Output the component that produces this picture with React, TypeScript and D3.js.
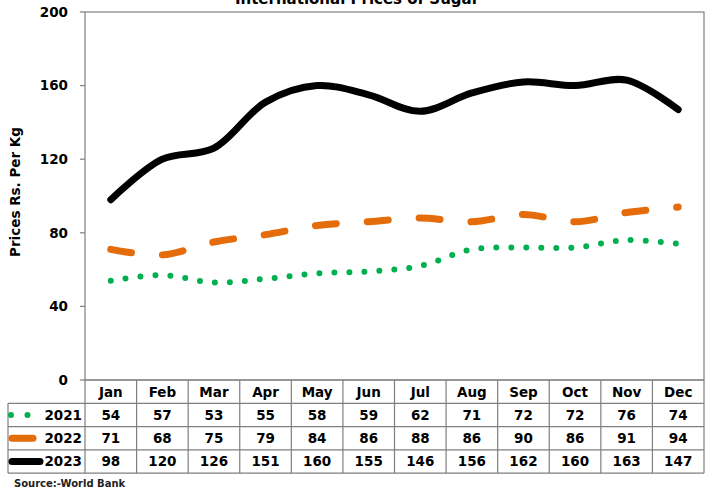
import React from "react";
import * as d3 from "d3";

const months = ["Jan", "Feb", "Mar", "Apr", "May", "Jun", "Jul", "Aug", "Sep", "Oct", "Nov", "Dec"];
const series2021 = [54, 57, 53, 55, 58, 59, 62, 71, 72, 72, 76, 74];
const series2022 = [71, 68, 75, 79, 84, 86, 88, 86, 90, 86, 91, 94];
const series2023 = [98, 120, 126, 151, 160, 155, 146, 156, 162, 160, 163, 147];
const seriesNames = ["2021", "2022", "2023"];
const yTicks = [0, 40, 80, 120, 160, 200];
const title = "International Prices of Sugar";
const yLabel = "Prices Rs. Per Kg";
const source = "Source:-World Bank";

const W = 706;
const H = 489;
const left = 85;
const right = 704;
const top = 12;
const bottom = 380;
const rowH = 23.3;
const tableLeft = 8;
const font = "'DejaVu Sans', Verdana, sans-serif";

export default function App() {
  const x = d3.scaleBand<string>().domain(months).range([left, right]);
  const y = d3.scaleLinear().domain([0, 200]).range([bottom, top]);
  const line = d3
    .line<number>()
    .x((_, i) => (x(months[i]) as number) + x.bandwidth() / 2)
    .y((d) => y(d))
    .curve(d3.curveCatmullRom.alpha(0.5));

  const styles = [
    { color: "#00B050", width: 6, dash: "0 15", cap: "round" as const },
    { color: "#E46C0A", width: 7, dash: "21 31", cap: "round" as const },
    { color: "#000000", width: 7, dash: undefined, cap: "round" as const },
  ];
  const data = [series2021, series2022, series2023];
  const border = "#7f7f7f";

  return (
    <svg width={W} height={H} style={{ position: "absolute", left: 0, top: 0, background: "#fff" }}>
      <text x={357} y={4} textAnchor="middle" fontFamily={font} fontWeight="bold" fontSize={15}>
        {title}
      </text>
      {/* plot frame */}
      <rect x={left} y={top} width={right - left} height={bottom - top} fill="none" stroke={border} strokeWidth={1.2} />
      {/* y ticks */}
      {yTicks.map((t) => (
        <g key={t}>
          <line x1={left - 5} x2={left} y1={y(t)} y2={y(t)} stroke={border} strokeWidth={1.2} />
          <text x={68} y={y(t)} dy="0.36em" textAnchor="end" fontFamily={font} fontWeight="bold" fontSize={13.5}>
            {t}
          </text>
        </g>
      ))}
      <text
        transform={`translate(20,${(top + bottom) / 2 - 4}) rotate(-90)`}
        textAnchor="middle"
        fontFamily={font}
        fontWeight="bold"
        fontSize={13.5}
      >
        {yLabel}
      </text>
      {/* lines */}
      {data.map((s, i) => (
        <path
          key={i}
          d={line(s) as string}
          fill="none"
          stroke={styles[i].color}
          strokeWidth={styles[i].width}
          strokeDasharray={styles[i].dash}
          strokeLinecap={styles[i].cap}
          strokeLinejoin="round"
        />
      ))}
      {/* table */}
      {[0, 1, 2, 3, 4].map((r) => (
        <line
          key={"h" + r}
          x1={r === 0 ? left : tableLeft}
          x2={right}
          y1={bottom + r * rowH}
          y2={bottom + r * rowH}
          stroke={border}
          strokeWidth={1.2}
        />
      ))}
      <line x1={tableLeft} x2={tableLeft} y1={bottom + rowH} y2={bottom + 4 * rowH} stroke={border} strokeWidth={1.2} />
      {months.map((m) => (
        <line
          key={"v" + m}
          x1={x(m) as number}
          x2={x(m) as number}
          y1={bottom}
          y2={bottom + 4 * rowH}
          stroke={border}
          strokeWidth={1.2}
        />
      ))}
      <line x1={right} x2={right} y1={bottom} y2={bottom + 4 * rowH} stroke={border} strokeWidth={1.2} />
      {months.map((m) => (
        <text
          key={"m" + m}
          x={(x(m) as number) + x.bandwidth() / 2}
          y={bottom + rowH / 2}
          dy="0.36em"
          textAnchor="middle"
          fontFamily={font}
          fontWeight="bold"
          fontSize={13.5}
        >
          {m}
        </text>
      ))}
      {data.map((s, r) => (
        <g key={"row" + r}>
          {s.map((v, i) => (
            <text
              key={i}
              x={(x(months[i]) as number) + x.bandwidth() / 2}
              y={bottom + (r + 1.5) * rowH}
              dy="0.36em"
              textAnchor="middle"
              fontFamily={font}
              fontWeight="bold"
              fontSize={13.5}
            >
              {v}
            </text>
          ))}
          <text
            x={left - 3}
            y={bottom + (r + 1.5) * rowH}
            dy="0.36em"
            textAnchor="end"
            fontFamily={font}
            fontWeight="bold"
            fontSize={13.5}
          >
            {seriesNames[r]}
          </text>
        </g>
      ))}
      {/* legend keys */}
      <line
        x1={11}
        x2={28}
        y1={bottom + 1.5 * rowH}
        y2={bottom + 1.5 * rowH}
        stroke={styles[0].color}
        strokeWidth={6}
        strokeDasharray="0 16.5"
        strokeLinecap="round"
      />
      <line
        x1={12}
        x2={33}
        y1={bottom + 2.5 * rowH}
        y2={bottom + 2.5 * rowH}
        stroke={styles[1].color}
        strokeWidth={7}
        strokeLinecap="round"
      />
      <line
        x1={12}
        x2={40}
        y1={bottom + 3.5 * rowH}
        y2={bottom + 3.5 * rowH}
        stroke={styles[2].color}
        strokeWidth={7}
        strokeLinecap="round"
      />
      <text x={14} y={487} fontFamily={font} fontWeight="bold" fontSize={10} fill="#222">
        {source}
      </text>
    </svg>
  );
}
